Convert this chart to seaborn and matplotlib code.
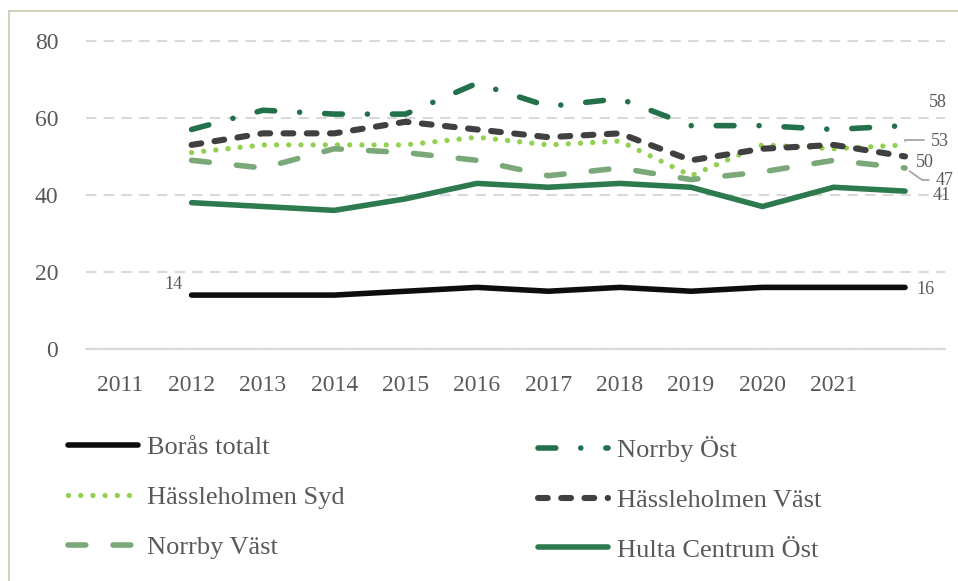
import numpy as np
import matplotlib
matplotlib.use("Agg")
import matplotlib.pyplot as plt
from matplotlib.patches import Rectangle
import seaborn as sns

# data
years = ["2011", "2012", "2013", "2014", "2015", "2016",
         "2017", "2018", "2019", "2020", "2021"]
boras_totalt = [14, 14, 14, 15, 16, 15, 16, 15, 16, 16, 16]
norrby_ost = [57, 62, 61, 61, 69, 63, 65, 58, 58, 57, 58]
hassleholmen_syd = [51, 53, 53, 53, 55, 53, 54, 45, 53, 52, 53]
hassleholmen_vast = [53, 56, 56, 59, 57, 55, 56, 49, 52, 53, 50]
norrby_vast = [49, 47, 52, 51, 49, 45, 47, 44, 46, 49, 47]
hulta_centrum_ost = [38, 37, 36, 39, 43, 42, 43, 42, 37, 42, 41]

sns.set_theme(style="white")
plt.rcParams['font.family'] = ['Liberation Serif', 'DejaVu Serif']

TXT = '#595959'

fig = plt.figure(figsize=(9.58, 5.81), dpi=100)
ax = fig.add_axes([86 / 958, 1 - 349 / 581, (945 - 86) / 958, (349 - 39) / 581])

# the source chart draws every series one category right of its year label
pos = np.arange(len(years)) + 1

series = [
    ("Borås totalt", boras_totalt, '#0d0d0d', None, 4.0),
    ("Norrby Öst", norrby_ost, '#23714a', (3.2, 4.5, 0.01, 4.5), 4.0),
    ("Hässleholmen Syd", hassleholmen_syd, '#92d050', (0.01, 2.3), 3.8),
    ("Hässleholmen Väst", hassleholmen_vast, '#404040', (1.6, 2.2), 4.4),
    ("Norrby Väst", norrby_vast, '#7aa878', (3.2, 4.9), 4.0),
    ("Hulta Centrum Öst", hulta_centrum_ost, '#2d7a4f', None, 4.0),
]

lines = {}
for name, vals, color, dash, lw in series:
    sns.lineplot(x=pos, y=vals, ax=ax, color=color, lw=lw, legend=False)
    ln = ax.lines[-1]
    ln.set_label(name)
    ln.set_solid_capstyle('round')
    ln.set_dash_capstyle('round')
    ln.set_solid_joinstyle('round')
    if dash is not None:
        ln.set_dashes(dash)
    lines[name] = ln

ax.set_xlim(-0.48, 11.56)
ax.set_ylim(0, 80.5)
ax.set_yticks([0, 20, 40, 60, 80])
ax.set_xticks(np.arange(len(years)))
ax.set_xticklabels(years)
ax.set_xlabel("")
ax.set_ylabel("")
ax.tick_params(axis='y', length=0, pad=20, labelsize=17, labelcolor=TXT)
ax.tick_params(axis='x', length=0, pad=19, labelsize=17, labelcolor=TXT)
ax.yaxis.grid(True, color='#d9d9d9', ls=(0, (5, 3.5)), lw=1.5)
ax.xaxis.grid(False)
for s in ax.spines.values():
    s.set_visible(False)
ax.axhline(0, color='#d9d9d9', lw=1.6, clip_on=False, zorder=1)

# end / start value labels
lab = dict(textcoords='offset pixels', fontsize=13, color=TXT, ha='center', va='center')
ax.annotate(str(boras_totalt[0]), (pos[0], boras_totalt[0]), xytext=(-18, 11), **lab)
ax.annotate(str(boras_totalt[-1]), (pos[-1], boras_totalt[-1]), xytext=(20, -2), **lab)
ax.annotate(str(norrby_ost[-1]), (pos[-1], norrby_ost[-1]), xytext=(33, 23), **lab)
ax.annotate(str(hassleholmen_syd[-1]), (pos[-1], hassleholmen_syd[-1]), xytext=(35, 3),
            arrowprops=dict(arrowstyle='-', color='#a6a6a6', lw=1.3, relpos=(0, 0.6),
                            connectionstyle='angle,angleA=0,angleB=90',
                            shrinkA=3, shrinkB=3), **lab)
ax.annotate(str(hassleholmen_vast[-1]), (pos[-1], hassleholmen_vast[-1]), xytext=(20, -6), **lab)
ax.annotate(str(norrby_vast[-1]), (pos[-1], norrby_vast[-1]), xytext=(40, -12),
            arrowprops=dict(arrowstyle='-', color='#a6a6a6', lw=1.3, relpos=(0, 0.5),
                            connectionstyle='angle,angleA=0,angleB=-35',
                            shrinkA=3, shrinkB=4), **lab)
ax.annotate(str(hulta_centrum_ost[-1]), (pos[-1], hulta_centrum_ost[-1]), xytext=(37, -4), **lab)

# legend in two fixed columns
leg_kw = dict(loc='upper left', frameon=False, fontsize=19, handlelength=2.65,
              handletextpad=0.35, labelspacing=1.0, borderpad=0, borderaxespad=0,
              labelcolor=TXT)
left_names = ["Borås totalt", "Hässleholmen Syd", "Norrby Väst"]
right_names = ["Norrby Öst", "Hässleholmen Väst", "Hulta Centrum Öst"]
leg1 = fig.legend([lines[n] for n in left_names], left_names,
                  bbox_to_anchor=(68 / 958, 1 - 436 / 581), **leg_kw)
leg2 = fig.legend([lines[n] for n in right_names], right_names,
                  bbox_to_anchor=(538 / 958, 1 - 436 / 581), **leg_kw)

# thin frame round the chart
fig.patches.append(Rectangle((9 / 958, -0.05), 1.2, 1 - 11 / 581 + 0.05,
                             transform=fig.transFigure, fill=False,
                             ec='#c3cbb0', lw=1.2))

fig.savefig("out.png", dpi=100)
